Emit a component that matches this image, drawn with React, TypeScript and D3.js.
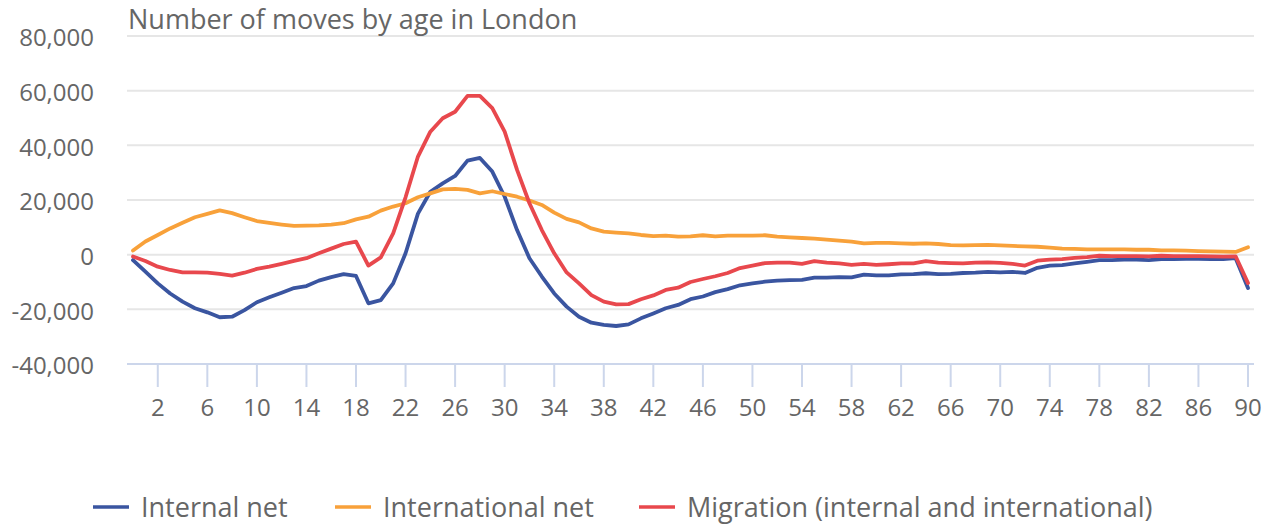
import React, { useEffect, useRef } from "react";
import * as d3 from "d3";

const WIDTH = 1269;
const HEIGHT = 524;

// ages 0..90 (category axis)
const AGES = d3.range(0, 91);
const TICK_AGES = [2, 6, 10, 14, 18, 22, 26, 30, 34, 38, 42, 46, 50, 54, 58, 62, 66, 70, 74, 78, 82, 86, 90];
const Y_TICKS = [-40000, -20000, 0, 20000, 40000, 60000, 80000];

const internalNet = [
  -2000, -6200, -10500, -14200, -17200, -19600, -21100, -22900, -22700, -20300,
  -17400, -15600, -13900, -12200, -11500, -9500, -8200, -7100, -7800, -17800,
  -16600, -10500, 500, 15000, 23000, 26100, 28800, 34400, 35400, 30400,
  21200, 9000, -1300, -8000, -14200, -19000, -22700, -24900, -25700, -26100,
  -25500, -23300, -21500, -19600, -18400, -16300, -15300, -13700, -12600, -11200,
  -10500, -9900, -9500, -9300, -9200, -8400, -8400, -8200, -8300, -7300,
  -7600, -7600, -7200, -7100, -6800, -7100, -7000, -6700, -6600, -6300,
  -6500, -6300, -6700, -4800, -4000, -3800, -3200, -2600, -2000, -2000,
  -1800, -1800, -2000, -1600, -1600, -1500, -1500, -1600, -1600, -1300,
  -12200
];

const internationalNet = [
  1500, 4800, 7200, 9600, 11700, 13700, 14900, 16200, 15200, 13700,
  12300, 11600, 11000, 10500, 10600, 10700, 11000, 11500, 12900, 13900,
  16100, 17600, 18800, 21000, 22400, 23900, 24100, 23700, 22400, 23200,
  22200, 21200, 19800, 18200, 15400, 13100, 11800, 9600, 8400, 8100,
  7800, 7200, 6800, 7000, 6600, 6700, 7100, 6700, 7000, 7000,
  7000, 7100, 6600, 6300, 6100, 5900, 5500, 5100, 4800, 4100,
  4300, 4300, 4100, 4000, 4100, 3900, 3500, 3400, 3500, 3600,
  3400, 3200, 3000, 2900, 2600, 2200, 2100, 1950, 1950, 1950,
  1950, 1800, 1800, 1600, 1600, 1500, 1300, 1200, 1100, 1000,
  2700
];

const migration = [
  -700, -2300, -4400, -5600, -6500, -6500, -6600, -7000, -7700, -6600,
  -5200, -4400, -3400, -2300, -1300, 500, 2200, 3900, 4800, -4000,
  -1000, 7800, 21000, 35900, 45000, 49900, 52300, 58100, 58100, 53600,
  45000, 31000, 18800, 9000, 500, -6500, -10500, -14800, -17200, -18200,
  -18100, -16300, -14900, -12900, -12100, -10000, -8900, -7900, -6700, -4900,
  -4000, -3100, -2900, -2900, -3400, -2400, -2900, -3200, -3700, -3400,
  -3700, -3500, -3200, -3200, -2400, -2900, -3100, -3200, -2900, -2800,
  -3000, -3400, -4000, -2200, -1800, -1600, -1200, -900, -400, -500,
  -500, -500, -600, -400, -500, -500, -500, -600, -700, -600,
  -10400
];

const SERIES = [
  { name: "Internal net", color: "#3a55a0", values: internalNet },
  { name: "International net", color: "#f8a13a", values: internationalNet },
  { name: "Migration (internal and international)", color: "#e8484d", values: migration }
];

const FONT = "'Open Sans', sans-serif";
const TEXT_COLOR = "#666666";

// plain hyphen for negatives, as in the source chart
const fmt = (v: number) => d3.format(",")(v).replace("\u2212", "-");

const App: React.FC = () => {
  const ref = useRef<SVGSVGElement>(null);

  useEffect(() => {
    if (!ref.current) return;
    const svg = d3.select(ref.current);
    svg.selectAll("*").remove();

    const plotLeft = 127;
    const plotRight = 1254;

    const x = d3.scaleLinear().domain([0, 90]).range([133, 1248]);
    const y = d3.scaleLinear().domain([-40000, 80000]).range([364, 36]);

    // gridlines
    svg.append("g")
      .selectAll("line")
      .data(Y_TICKS.filter(t => t !== -40000))
      .enter()
      .append("line")
      .attr("x1", plotLeft)
      .attr("x2", plotRight)
      .attr("y1", d => y(d))
      .attr("y2", d => y(d))
      .attr("stroke", "#e6e6e6")
      .attr("stroke-width", 2);

    // y labels
    svg.append("g")
      .selectAll("text")
      .data(Y_TICKS)
      .enter()
      .append("text")
      .attr("x", 94)
      .attr("y", d => y(d) + 2)
      .attr("dy", "0.35em")
      .attr("text-anchor", "end")
      .style("font-family", FONT)
      .style("font-size", "24px")
      .style("fill", TEXT_COLOR)
      .text(d => fmt(d));

    // x axis line + ticks
    svg.append("line")
      .attr("x1", plotLeft)
      .attr("x2", plotRight)
      .attr("y1", y(-40000))
      .attr("y2", y(-40000))
      .attr("stroke", "#ccd6eb")
      .attr("stroke-width", 2);

    const xt = svg.append("g");
    xt.selectAll("line")
      .data(TICK_AGES)
      .enter()
      .append("line")
      .attr("x1", d => x(d))
      .attr("x2", d => x(d))
      .attr("y1", y(-40000))
      .attr("y2", y(-40000) + 23)
      .attr("stroke", "#ccd6eb")
      .attr("stroke-width", 2);

    xt.selectAll("text")
      .data(TICK_AGES)
      .enter()
      .append("text")
      .attr("x", d => x(d))
      .attr("y", 416)
      .attr("text-anchor", "middle")
      .style("font-family", FONT)
      .style("font-size", "24px")
      .style("fill", TEXT_COLOR)
      .text(d => String(d));

    // lines
    const line = d3.line<number>()
      .x((_d, i) => x(AGES[i]))
      .y(d => y(d));

    SERIES.forEach(s => {
      svg.append("path")
        .datum(s.values)
        .attr("d", line)
        .attr("fill", "none")
        .attr("stroke", s.color)
        .attr("stroke-width", 3.8)
        .attr("stroke-linejoin", "round")
        .attr("stroke-linecap", "round");
    });

    // title
    svg.append("text")
      .attr("x", 128)
      .attr("y", 29)
      .style("font-family", FONT)
      .style("font-size", "27px")
      .style("fill", TEXT_COLOR)
      .text("Number of moves by age in London");

    // legend
    const legendX = [93, 335, 639];
    const legend = svg.append("g");
    SERIES.forEach((s, i) => {
      legend.append("line")
        .attr("x1", legendX[i])
        .attr("x2", legendX[i] + 36)
        .attr("y1", 507)
        .attr("y2", 507)
        .attr("stroke", s.color)
        .attr("stroke-width", 3.5);
      legend.append("text")
        .attr("x", legendX[i] + 48)
        .attr("y", 517)
        .style("font-family", FONT)
        .style("font-size", "27px")
        .style("fill", TEXT_COLOR)
        .text(s.name);
    });
  }, []);

  return (
    <svg
      ref={ref}
      width={WIDTH}
      height={HEIGHT}
      style={{ position: "absolute", left: 0, top: 0, background: "#ffffff" }}
    />
  );
};

export default App;
